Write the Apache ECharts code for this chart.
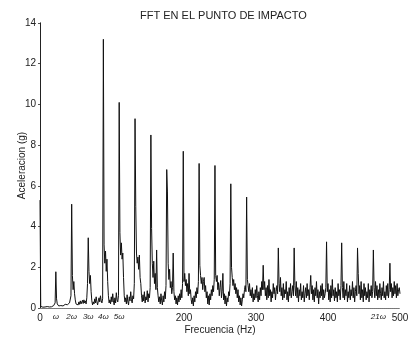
<!DOCTYPE html>
<html>
<head>
<meta charset="utf-8">
<script src="https://cdn.jsdelivr.net/npm/echarts@6/dist/echarts.min.js"></script>
<style>
  html, body { margin: 0; padding: 0; background: #fff; }
  #chart { width: 412px; height: 341px; }
</style>
</head>
<body>
<div id="chart"></div>
<script>
// Spectrum resolution (Hz between consecutive amplitude samples)
const binHz = 1;

// Acceleration amplitude (g), one value per 1 Hz bin from 0 to 500 Hz (10 Hz per row)
const accel = [
  5.3, 0.08, 0.05, 0.06, 0.04, 0.05, 0.07, 0.05, 0.06, 0.05,
  0.07, 0.06, 0.08, 0.05, 0.07, 0.09, 0.06, 0.08, 0.1, 0.12,
  0.15, 0.25, 1.78, 0.45, 0.2, 0.12, 0.1, 0.08, 0.1, 0.12,
  0.09, 0.14, 0.1, 0.16, 0.12, 0.18, 0.14, 0.2, 0.16, 0.22,
  0.18, 0.25, 0.3, 0.6, 5.1, 1.6, 0.9, 1.3, 0.7, 0.4,
  0.2, 0.12, 0.22, 0.15, 0.3, 0.18, 0.35, 0.2, 0.28, 0.38,
  0.22, 0.4, 0.25, 0.35, 0.2, 0.5, 1.2, 3.45, 1.8, 1.2,
  1.6, 0.8, 0.35, 0.15, 0.3, 0.2, 0.45, 0.25, 0.55, 0.3,
  0.15, 0.35, 0.5, 0.3, 0.6, 0.35, 0.25, 0.45, 13.2, 3.1,
  2.2, 2.8, 1.8, 2.4, 1.3, 0.6, 0.25, 0.4, 0.2, 0.55,
  0.3, 0.7, 0.35, 0.15, 0.5, 0.25, 0.75, 0.4, 0.3, 0.6,
  10.1, 3.7, 2.6, 3.2, 2.4, 2.7, 1.5, 0.6, 0.3, 0.5,
  0.2, 0.65, 0.3, 0.15, 0.55, 0.35, 0.8, 0.4, 0.25, 0.6,
  0.45, 1.2, 9.3, 5.0, 2.7, 2.2, 2.5, 1.9, 2.6, 1.5,
  1.2, 0.6, 0.3, 0.65, 0.35, 0.8, 0.25, 0.55, 0.4, 0.85,
  0.3, 0.7, 0.5, 1.0, 8.5, 3.9, 2.2, 1.5, 2.3, 1.2,
  1.7, 0.9, 2.85, 1.0, 0.6, 0.3, 0.55, 0.2, 0.7, 0.35,
  0.15, 0.6, 0.3, 0.8, 0.45, 1.1, 6.8, 5.7, 2.2, 1.4,
  1.9, 1.0, 1.3, 0.7, 1.0, 2.7, 0.8, 0.4, 0.6, 0.2,
  0.5, 0.15, 0.6, 0.3, 0.7, 0.4, 0.9, 0.5, 1.2, 7.7,
  1.3, 1.7, 1.1, 1.4, 0.8, 1.2, 0.6, 1.7, 0.7, 0.9,
  0.4, 0.2, 0.5, 0.1, 0.6, 0.3, 0.8, 0.5, 1.0, 0.7,
  1.3, 7.1, 2.1, 1.6, 1.2, 1.5, 0.9, 1.3, 1.5, 0.8,
  1.1, 0.5, 0.8, 0.2, 0.6, 0.15, 0.7, 0.4, 0.9, 0.6,
  1.1, 0.8, 1.4, 7.0, 1.6, 1.3, 1.6, 0.9, 1.25, 0.6,
  1.0, 1.35, 0.5, 0.8, 1.7, 0.4, 0.7, 0.2, 0.6, 0.1,
  0.5, 0.3, 0.8, 0.6, 1.2, 6.1, 2.0, 1.5, 1.1, 1.4,
  0.9, 1.2, 0.7, 1.0, 0.5, 0.9, 0.3, 0.6, 0.15, 0.5,
  0.1, 0.4, 0.7, 0.5, 0.9, 1.1, 0.8, 5.45, 1.4, 1.1,
  0.8, 1.2, 0.6, 0.9, 0.5, 1.0, 0.3, 0.7, 0.4, 0.9,
  0.5, 1.1, 0.6, 0.3, 0.8, 0.4, 1.0, 0.6, 1.3, 0.9,
  2.1, 0.9, 1.3, 0.6, 1.0, 0.4, 1.1, 0.5, 1.4, 0.6,
  0.9, 0.3, 0.8, 0.5, 1.2, 0.7, 1.0, 0.4, 0.8, 1.1,
  0.7, 2.95, 1.2, 0.8, 1.5, 0.6, 1.0, 0.4, 1.2, 0.5,
  0.9, 0.7, 1.3, 0.4, 0.8, 0.3, 1.0, 0.6, 1.2, 0.5,
  0.8, 1.1, 0.6, 2.95, 1.1, 0.6, 1.3, 0.5, 1.0, 0.3,
  0.9, 0.6, 1.2, 0.4, 0.8, 0.5, 1.1, 0.3, 0.7, 1.0,
  0.5, 1.2, 0.6, 0.9, 0.4, 1.0, 1.6, 0.7, 1.1, 0.4,
  0.9, 0.3, 1.0, 0.6, 1.3, 0.5, 0.9, 0.2, 0.8, 0.5,
  1.1, 0.6, 1.2, 0.4, 0.9, 0.5, 0.7, 1.0, 3.25, 0.8,
  1.2, 0.4, 0.9, 0.3, 1.1, 0.5, 1.4, 0.6, 0.9, 0.35,
  1.0, 0.5, 0.8, 0.3, 1.2, 0.6, 0.9, 0.4, 1.1, 3.2,
  1.0, 0.5, 1.3, 0.4, 0.9, 0.6, 1.2, 0.3, 0.8, 0.5,
  1.1, 0.4, 0.9, 0.6, 1.3, 0.5, 1.0, 0.3, 0.8, 1.1,
  0.6, 2.95, 1.7, 0.7, 1.1, 0.4, 1.3, 0.5, 0.9, 0.3,
  1.2, 0.6, 1.0, 0.4, 0.8, 0.5, 1.2, 0.3, 0.9, 0.6,
  1.1, 0.5, 0.8, 2.85, 1.0, 0.5, 1.3, 0.6, 1.1, 0.4,
  0.9, 0.5, 1.2, 0.7, 0.4, 1.0, 0.6, 1.3, 0.5, 0.8,
  0.4, 1.1, 0.6, 1.2, 0.5, 0.9, 2.2, 0.8, 1.2, 0.5,
  1.0, 0.6, 1.3, 0.7, 1.1, 0.5, 1.2, 0.6, 0.9, 1.0,
  0.7
];

// Frequency-axis labels: harmonics of the rotation speed plus round values
const xTickFreqs = [0, 22, 44, 67, 88, 110, 200, 300, 400, 470, 500];
const xTickTexts = ['0', 'ω', '2ω', '3ω', '4ω', '5ω', '200', '300', '400', '21ω', '500'];

// Acceleration-axis ticks
const yTicks = [0, 2, 4, 6, 8, 10, 12, 14];

const titleText = 'FFT EN EL PUNTO DE IMPACTO';
const xName = 'Frecuencia (Hz)';
const yName = 'Aceleracion (g)';

const points = accel.map((a, i) => [i * binHz, a]);

const chart = echarts.init(document.getElementById('chart'), null, { renderer: 'canvas' });
const font = 'Liberation Sans, Arial, sans-serif';

chart.setOption({
  animation: false,
  backgroundColor: '#ffffff',
  title: {
    text: titleText,
    left: 135,
    top: 5,
    textStyle: { fontFamily: font, fontSize: 11, fontWeight: 'normal', color: '#222' }
  },
  grid: { left: 40, right: 12, top: 23, bottom: 33, outerBoundsMode: 'none' },
  xAxis: [{
    type: 'value',
    min: 0, max: 500,
    name: xName,
    nameLocation: 'middle',
    nameGap: 17,
    nameMoveOverlap: false,
    nameTextStyle: { fontFamily: font, fontSize: 10, color: '#222' },
    axisLine: { show: true, onZero: false, lineStyle: { color: '#444', type: 'dotted', width: 1 } },
    axisTick: { show: false },
    splitLine: { show: false },
    axisLabel: {
      customValues: xTickFreqs,
      margin: 5,
      fontFamily: font,
      fontSize: 10,
      color: '#222',
      formatter: v => {
        const idx = xTickFreqs.indexOf(v);
        const t = idx >= 0 ? xTickTexts[idx] : '';
        return t.indexOf('ω') >= 0 ? '{w|' + t + '}' : t;
      },
      rich: { w: { fontFamily: font, fontSize: 8, fontStyle: 'italic', color: '#222' } }
    }
  }, {
    type: 'value',
    position: 'top',
    min: 0, max: 500,
    axisLine: { show: true, lineStyle: { color: '#777', type: 'dotted', width: 1 } },
    axisTick: { show: false },
    axisLabel: { show: false },
    splitLine: { show: false }
  }],
  yAxis: [{
    type: 'value',
    min: 0, max: 14, interval: 2,
    name: yName,
    nameLocation: 'middle',
    nameGap: 13,
    nameMoveOverlap: false,
    nameTextStyle: { fontFamily: font, fontSize: 10, color: '#222' },
    axisLine: { show: true, lineStyle: { color: '#555', width: 1 } },
    axisTick: { show: true, length: 2, lineStyle: { color: '#555' } },
    splitLine: { show: false },
    axisLabel: {
      customValues: yTicks,
      margin: 4,
      fontFamily: font,
      fontSize: 10,
      color: '#222'
    }
  }, {
    type: 'value',
    position: 'right',
    min: 0, max: 14,
    axisLine: { show: true, lineStyle: { color: '#222', width: 1 } },
    axisTick: { show: false },
    axisLabel: { show: false },
    splitLine: { show: false }
  }],
  series: [{
    type: 'line',
    xAxisIndex: 0,
    yAxisIndex: 0,
    data: points,
    symbol: 'none',
    lineStyle: { color: '#111', width: 1 }
  }]
});
</script>
</body>
</html>
